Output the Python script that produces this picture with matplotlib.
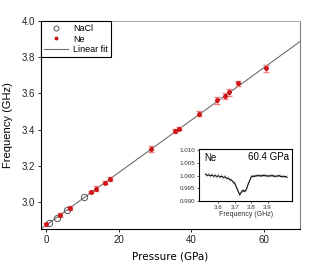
import matplotlib.pyplot as plt

# pressure dependence of the frequency
nacl_p = [0.7, 3.0, 5.8, 10.3]
nacl_f = [2.882, 2.913, 2.957, 3.026]

ne_p = [0.0, 3.9, 6.6, 12.4, 13.8, 16.2, 17.6, 29.0, 35.6, 36.7, 42.2, 47.2, 49.3, 50.5, 53.0, 60.5]
ne_f = [2.877, 2.929, 2.967, 3.054, 3.073, 3.107, 3.125, 3.293, 3.392, 3.405, 3.487, 3.562, 3.586, 3.606, 3.656, 3.739]
ne_err = [0.008, 0.010, 0.012, 0.006, 0.015, 0.010, 0.010, 0.015, 0.012, 0.010, 0.014, 0.018, 0.015, 0.018, 0.013, 0.020]

fit_p = [-1.5, 70.0]
fit_f = [2.851, 3.887]

# inset spectrum, Ne at 60.4 GPa
spec_f = [3.52, 3.53, 3.54, 3.55, 3.56, 3.57, 3.58, 3.59, 3.60, 3.61,
          3.62, 3.63, 3.64, 3.65, 3.66, 3.67, 3.68, 3.69, 3.70, 3.71,
          3.72, 3.73, 3.74, 3.75, 3.76, 3.77, 3.78, 3.79, 3.80, 3.81,
          3.82, 3.83, 3.84, 3.85, 3.86, 3.87, 3.88, 3.89, 3.90, 3.91,
          3.92, 3.93, 3.94, 3.95, 3.96, 3.97, 3.98, 3.99, 4.00, 4.01, 4.02]
spec_t = [1.0005, 1.0001, 1.0003, 0.9999, 1.0002, 0.9998, 1.0000, 0.9997, 0.9999, 0.9995,
          0.9997, 0.9993, 0.9995, 0.9990, 0.9989, 0.9985, 0.9981, 0.9976, 0.9968, 0.9955,
          0.9938, 0.9925, 0.9934, 0.9943, 0.9936, 0.9945, 0.9962, 0.9980, 0.9994, 0.9999,
          0.9996, 1.0001, 0.9998, 1.0002, 0.9997, 1.0002, 0.9999, 1.0001, 0.9997, 1.0000,
          0.9998, 1.0002, 0.9996, 0.9999, 0.9997, 1.0001, 0.9996, 0.9998, 0.9995, 0.9997, 0.9993]
spec_raw = [1.0012, 0.9996, 1.0010, 0.9993, 1.0008, 0.9991, 1.0007, 0.9990, 1.0006, 0.9989,
            1.0004, 0.9987, 1.0002, 0.9983, 0.9996, 0.9978, 0.9988, 0.9969, 0.9975, 0.9947,
            0.9946, 0.9917, 0.9942, 0.9935, 0.9944, 0.9938, 0.9970, 0.9973, 1.0002, 0.9992,
            1.0004, 0.9994, 1.0006, 0.9995, 1.0005, 0.9995, 1.0007, 0.9993, 1.0004, 0.9993,
            1.0006, 0.9995, 1.0003, 0.9992, 1.0004, 0.9994, 1.0003, 0.9991, 1.0002, 0.9990, 1.0000]

fig = plt.figure(figsize=(3.12, 2.73), dpi=100)
ax = fig.add_axes([0.131, 0.161, 0.831, 0.762])

ax.plot(fit_p, fit_f, color='#6e6e6e', lw=0.8, label='Linear fit', zorder=1)
ax.errorbar(ne_p, ne_f, yerr=ne_err, fmt='none', ecolor='#f08080', elinewidth=1.0,
            capsize=2.4, capthick=1.0, zorder=2)
ax.plot(nacl_p, nacl_f, 'o', mfc='none', mec='#555555', mew=0.7, ms=4.5, ls='none',
        label='NaCl', zorder=3)
ax.plot(ne_p, ne_f, 'o', color='#e8141c', mec='#b00000', mew=0.6, ms=2.7, ls='none',
        label='Ne', zorder=4)

ax.set_xlim(-1.5, 70)
ax.set_ylim(2.85, 4.0)
ax.set_xticks([0, 20, 40, 60])
ax.set_yticks([3.0, 3.2, 3.4, 3.6, 3.8, 4.0])
ax.set_yticklabels(['3.0', '3.2', '3.4', '3.6', '3.8', '4.0'])
ax.tick_params(labelsize=7, length=2, width=0.6, pad=2, labelcolor='#222222')
for lab in ax.get_xticklabels() + ax.get_yticklabels():
    lab.set_family('Liberation Sans')
ax.set_xlabel('Pressure (GPa)', fontsize=7.5, family='DejaVu Sans', labelpad=5)
ax.set_ylabel('Frequency (GHz)', fontsize=8, family='Liberation Sans', labelpad=6)
ax.spines['left'].set_color('black')
ax.spines['bottom'].set_color('black')
ax.spines['top'].set_color('#b0b0b0')
ax.spines['right'].set_color('#808080')
for s in ax.spines.values():
    s.set_linewidth(0.8)

h, l = ax.get_legend_handles_labels()
order = [l.index('NaCl'), l.index('Ne'), l.index('Linear fit')]
leg = ax.legend([h[i] for i in order], [l[i] for i in order], loc='upper left',
                borderaxespad=0, fancybox=False, framealpha=1, edgecolor='black',
                prop={'family': 'Liberation Sans', 'size': 6.5}, handlelength=2.6,
                handletextpad=0.6, borderpad=0.35, labelspacing=0.15, markerscale=0.8)
leg.get_frame().set_linewidth(0.8)

ins = fig.add_axes([0.639, 0.264, 0.297, 0.19])
ins.plot(spec_f, spec_raw, color='#b0b0b0', lw=0.6)
ins.plot(spec_f, spec_t, color='black', lw=0.7)
ins.set_xlim(3.483, 4.05)
ins.set_ylim(0.990, 1.0105)
ins.set_xticks([3.6, 3.7, 3.8, 3.9])
ins.set_yticks([0.990, 0.995, 1.000, 1.005, 1.010])
ins.set_yticklabels(['0.990', '0.995', '1.000', '1.005', '1.010'])
ins.tick_params(labelsize=4.5, length=1.5, width=0.5, pad=1.5, labelcolor='#333333')
for lab in ins.get_xticklabels() + ins.get_yticklabels():
    lab.set_family('Liberation Sans')
ins.set_xlabel('Frequency (GHz)', fontsize=5, family='Liberation Sans', labelpad=1,
               color='#333333')
for s in ins.spines.values():
    s.set_linewidth(0.8)
ins.text(0.05, 0.93, 'Ne', transform=ins.transAxes, ha='left', va='top',
         fontsize=7, family='Liberation Sans')
ins.text(0.97, 0.95, '60.4 GPa', transform=ins.transAxes, ha='right', va='top',
         fontsize=7, family='Liberation Sans')

fig.savefig('out.png', dpi=100)
